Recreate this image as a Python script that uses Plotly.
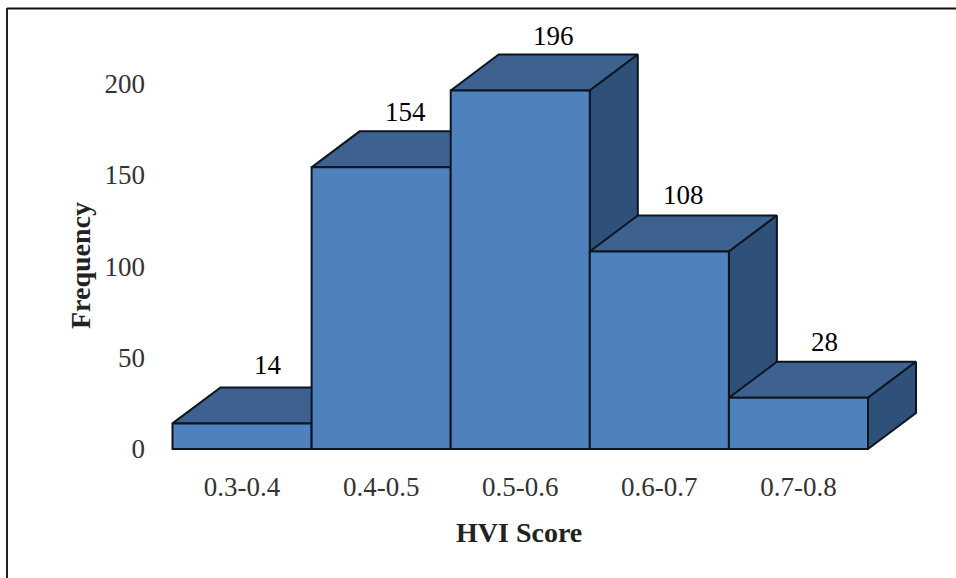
import plotly.graph_objects as go

categories = ["0.3-0.4", "0.4-0.5", "0.5-0.6", "0.6-0.7", "0.7-0.8"]
frequency = [14, 154, 196, 108, 28]
label_shift_px = [26, 24, 33, 24, 26]
label_lift_px = [58, 55, 55, 56, 56]
y_ticks = [0, 50, 100, 150, 200]

FONT = "Liberation Serif"
FRONT, TOP, SIDE = "#4f81bd", "#3d6290", "#2f5079"
EDGE = "#0d1520"

# Page geometry (pixels)
W, H = 956, 578
L, R, T, B = 168, 920, 40, 453
X0, Y0 = 172.5, 449            # page position of the chart's origin
UX = 139.1                     # pixels per category
UY = 1.829                     # pixels per frequency unit
DX, DY = 48 / UX, 36 / UY      # 3-D depth offset in data units

xrange = [-0.5 - (X0 - L) / UX, -0.5 + (R - X0) / UX]
yrange = [-(B - Y0) / UY, (Y0 - T) / UY]


def polygon(xs, ys, color, width=2):
    return go.Scatter(x=xs, y=ys, mode="lines", fill="toself", fillcolor=color,
                      line=dict(color=EDGE, width=width, shape="linear"),
                      hoverinfo="skip", showlegend=False)


fig = go.Figure()

for i, v in enumerate(frequency):
    a, b = i - 0.5, i + 0.5
    fig.add_trace(polygon([a, a + DX, b + DX, b, a],
                          [v, v + DY, v + DY, v, v], TOP))
    fig.add_trace(polygon([b, b + DX, b + DX, b, b],
                          [v, v + DY, DY, 0, v], SIDE))

fig.add_trace(go.Bar(x=list(range(len(categories))), y=frequency, width=1,
                     marker=dict(color=FRONT, line=dict(color=EDGE, width=2)),
                     xaxis="x2", yaxis="y2", showlegend=False,
                     hoverinfo="skip"))

for i, v in enumerate(frequency):
    fig.add_annotation(x=i, y=v, text=str(v), showarrow=False,
                       xref="x", yref="y", xanchor="center", yanchor="middle",
                       xshift=label_shift_px[i], yshift=label_lift_px[i],
                       font=dict(family=FONT, size=27, color="#000000"))


def px(v):
    return (v - L) / (R - L)


def py(v):
    return (B - v) / (B - T)


fig.add_annotation(x=px(519), y=py(532), xref="paper", yref="paper",
                   xanchor="center", yanchor="middle",
                   text="<b>HVI Score</b>", showarrow=False,
                   font=dict(family=FONT, size=28, color="#222222"))
fig.add_annotation(x=px(80), y=py(266), xref="paper", yref="paper",
                   xanchor="center", yanchor="middle",
                   text="<b>Frequency</b>", textangle=-90, showarrow=False,
                   font=dict(family=FONT, size=28, color="#222222"))

fig.add_shape(type="line", xref="paper", yref="paper", layer="below",
              x0=px(7), x1=px(956), y0=py(8.5), y1=py(8.5),
              line=dict(color="#111111", width=2))
fig.add_shape(type="line", xref="paper", yref="paper", layer="below",
              x0=px(7), x1=px(7), y0=py(8), y1=py(578),
              line=dict(color="#222222", width=2))

axis_common = dict(showgrid=False, zeroline=False, showline=False, ticks="")
fig.update_layout(
    width=W, height=H,
    margin=dict(l=L, r=W - R, t=T, b=H - B, pad=0),
    paper_bgcolor="white", plot_bgcolor="rgba(0,0,0,0)",
    showlegend=False, barmode="overlay",
    xaxis=dict(range=xrange, tickmode="array",
               tickvals=list(range(len(categories))), ticktext=categories,
               ticklabelstandoff=15,
               tickfont=dict(family=FONT, size=27, color="#333333"),
               **axis_common),
    yaxis=dict(range=yrange, tickmode="array", tickvals=y_ticks,
               ticklabelstandoff=22,
               tickfont=dict(family=FONT, size=27, color="#333333"),
               **axis_common),
    xaxis2=dict(range=xrange, overlaying="x", visible=False, **axis_common),
    yaxis2=dict(range=yrange, overlaying="y", visible=False, **axis_common),
)

fig.write_html("out.html", config=dict(displayModeBar=False),
               post_script="document.body.style.margin='0';document.body.style.overflow='hidden';")
